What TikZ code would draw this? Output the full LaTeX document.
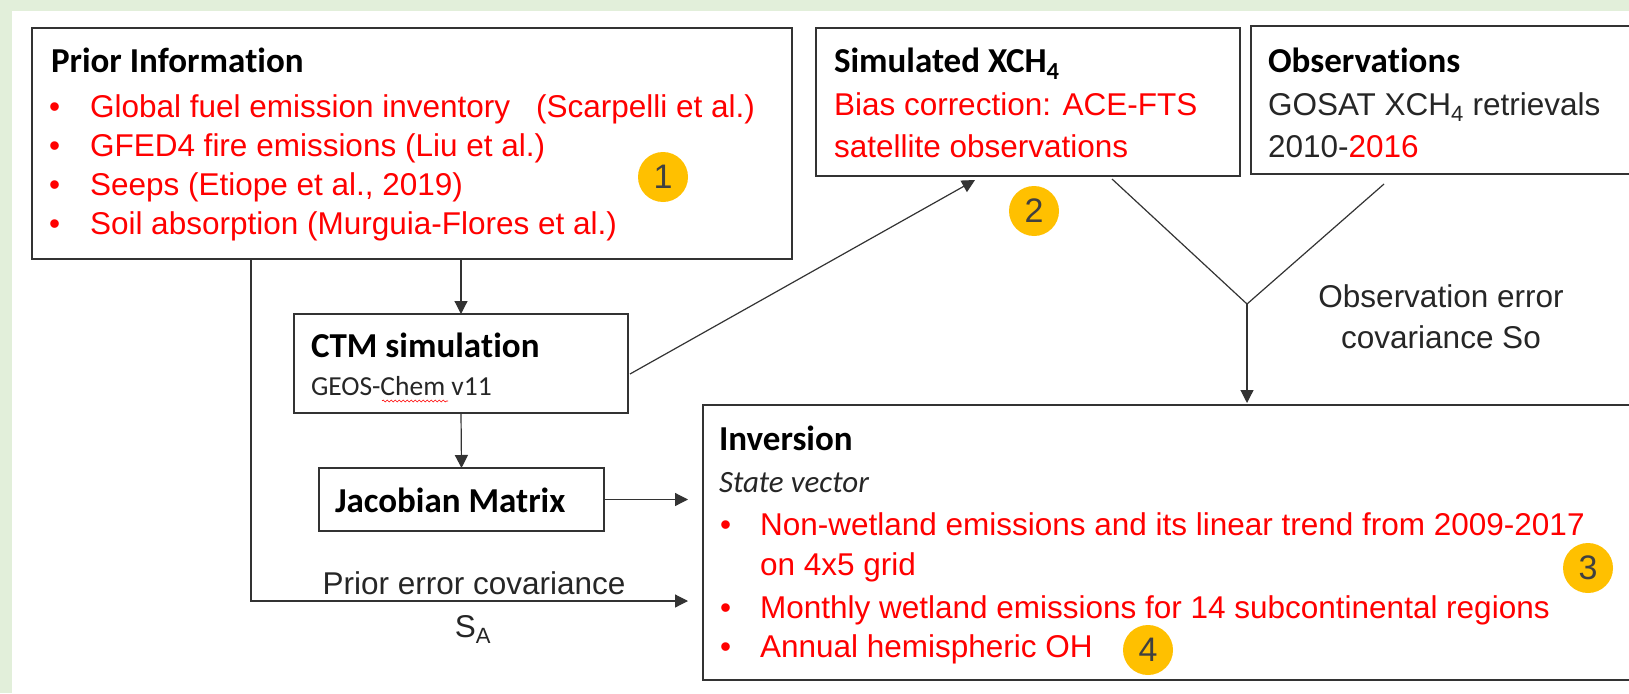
\documentclass[tikz,border=0pt]{standalone}
\usepackage{fontspec}
\setmainfont{Liberation Sans}
\newfontfamily\calfont[RawFeature={-liga;-calt;-clig;-dlig}]{Carlito}
\usetikzlibrary{arrows.meta,decorations.pathmorphing}
\definecolor{framegreen}{RGB}{226,239,218}
\definecolor{gold}{RGB}{255,192,0}
\definecolor{redtxt}{RGB}{255,0,0}
\definecolor{darktxt}{RGB}{38,38,38}
\tikzset{
  box/.style={draw=black!80, line width=1.5pt, inner sep=0pt, outer sep=0pt, anchor=north west, fill=white},
  txt/.style={anchor=base west, inner sep=0pt, outer sep=0pt},
  ctxt/.style={anchor=base, inner sep=0pt, outer sep=0pt},
  head/.style={txt, font=\calfont\bfseries\fontsize{35}{40}\selectfont},
  redline/.style={txt, text=redtxt, font=\fontsize{31.5}{36}\selectfont},
  plain/.style={txt, text=darktxt, font=\fontsize{31.5}{36}\selectfont},
  lbl/.style={ctxt, text=darktxt, font=\fontsize{31.5}{36}\selectfont},
  bul/.style={txt, text=redtxt, font=\fontsize{31.5}{36}\selectfont},
  conn/.style={draw=black!80, line width=1.2pt},
  arr/.style={conn, -{Triangle[length=13pt,width=13pt]}},
  badge/.style={circle, fill=gold, minimum size=50pt, inner sep=0pt, text=black!75, font=\fontsize{34}{36}\selectfont},
}
\begin{document}
\begin{tikzpicture}[x=1pt,y=-1pt]
\useasboundingbox (0,0) rectangle (1629,693);
\clip (0,0) rectangle (1629,693);
\fill[framegreen] (0,0) rectangle (1629,693);
\fill[white] (12,11) rectangle (1629,693);

% boxes
\node[box, minimum width=760pt, minimum height=231pt] (prior) at (32,28) {};
\node[box, minimum width=424pt, minimum height=148pt] (sim) at (816,28) {};
\node[box, minimum width=420pt, minimum height=148pt] (obs) at (1251,26) {};
\node[box, minimum width=334pt, minimum height=99pt] (ctm) at (294,314) {};
\node[box, minimum width=285pt, minimum height=63pt] (jac) at (319,468) {};
\node[box, minimum width=960pt, minimum height=275pt] (inv) at (703,405) {};

% Prior information text
\node[head] (priorT) at (51,72) {Prior Informa\kern0pt tion};
\node[bul] (pb1) at (49,117) {\textbullet};
\node[bul] (pb2) at (49,156) {\textbullet};
\node[bul] (pb3) at (49,195) {\textbullet};
\node[bul] (pb4) at (49,234) {\textbullet};
\node[redline] (pl1) at (90,117) {Global fuel emission inventory\hspace{26pt}(Scarpelli et al.)};
\node[redline] (pl2) at (90,156) {GFED4 fire emissions (Liu et al.)};
\node[redline] (pl3) at (90,195) {Seeps (Etiope et al., 2019)};
\node[redline] (pl4) at (90,234) {Soil absorption (Murguia-Flores et al.)};

% Simulated
\node[head] (simT) at (834,72) {Simulated XCH\textsubscript{4}};
\node[redline] (sl1) at (834,115) {Bias correction: ACE-FTS};
\node[redline] (sl2) at (834,157) {satellite observations};

% Observations
\node[head] (obsT) at (1268,72) {Observa\kern0pt tions};
\node[plain] (ol1) at (1268,115) {GOSAT XCH\textsubscript{4} retrievals};
\node[plain] (ol2) at (1268,157) {2010-\textcolor{redtxt}{2016}};

% CTM
\node[head] (ctmT) at (311,357) {CTM simula\kern0pt tion};
\node[txt, text=black!85, font=\calfont\fontsize{27.5}{30}\selectfont] (ctmS) at (311,395) {GEOS-Chem v11};
\draw[red, line width=0.6pt, decorate, decoration={snake, segment length=4pt, amplitude=1pt}] (382,401) -- (448,401);

% Jacobian
\node[head] (jacT) at (335,512) {Jacobian Matrix};

% Inversion
\node[head] (invT) at (719,450) {Inversion};
\node[txt, text=black!85, font=\calfont\itshape\fontsize{31}{34}\selectfont] (invS) at (719,492) {State vector};
\node[bul] (ib1) at (720,535) {\textbullet};
\node[bul] (ib2) at (720,618) {\textbullet};
\node[bul] (ib3) at (720,657) {\textbullet};
\node[redline] (il1) at (760,535) {Non-wetland emissions and its linear trend from 2009-2017};
\node[redline] (il1b) at (760,575) {on 4x5 grid};
\node[redline] (il2) at (760,618) {Monthly wetland emissions for 14 subcontinental regions};
\node[redline] (il3) at (760,657) {Annual hemispheric OH};

% badges
\node[badge] (b1) at (663,177) {1};
\node[badge] (b2) at (1034,211) {2};
\node[badge] (b3) at (1588,568) {3};
\node[badge] (b4) at (1148,650) {4};

% connectors
\draw[arr] (prior.south -| ctm.north) -- (ctm.north);
\draw[arr] (ctm.south) -- (jac.north);
\draw[arr, shorten >=15pt] (jac.east) -- (jac.east -| inv.west);

\coordinate (pcs) at (251,259);
\coordinate (pcturn) at (251,601);
\draw[arr, shorten >=15pt] (pcs) -- (pcturn) -- (pcturn -| inv.west);
\node[lbl] (pclab) at (474,594) {Prior error covariance};
\node[lbl] (salab) at (473,637) {S\textsubscript{A}};

\coordinate (ctmout) at (630,374);
\coordinate (simin) at (975,180);
\draw[arr] (ctmout) -- (simin);

\coordinate (vl) at (1112,179);
\coordinate (vr) at (1384,184);
\coordinate (vj) at (1247,304);
\draw[conn] (vl) -- (vj) -- (vr);
\draw[arr, shorten >=2pt] (vj) -- (vj |- inv.north);
\node[lbl] (olab1) at (1441,307) {Observation error};
\node[lbl] (olab2) at (1441,348) {covariance So};
\end{tikzpicture}
\end{document}
